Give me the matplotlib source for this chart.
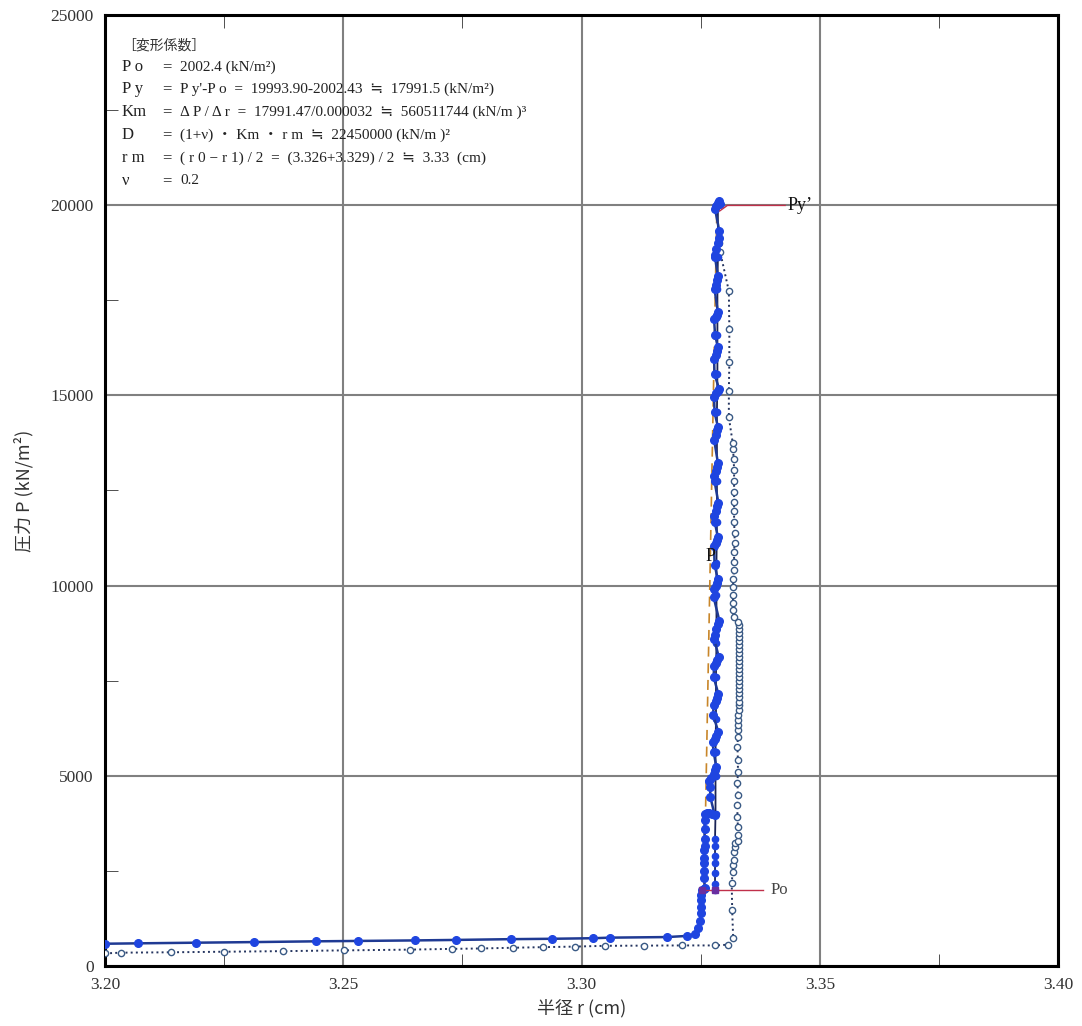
import matplotlib
matplotlib.use("Agg")
import matplotlib.pyplot as plt
from matplotlib.ticker import MultipleLocator

# ---- data ----
# filled series (main loading curve, r0)
load_r = [3.2000, 3.2069, 3.2190, 3.2312, 3.2442, 3.2530, 3.2651, 3.2737, 3.2851, 3.2937,
          3.3025, 3.3060, 3.3179, 3.3221, 3.3238, 3.3245, 3.3249, 3.3250, 3.3250, 3.3250,
          3.3251, 3.3252, 3.3256, 3.3259,
          3.3257, 3.3257, 3.3256, 3.3257, 3.3257, 3.3258, 3.3258, 3.3258, 3.3258, 3.3258,
          3.3263, 3.3268, 3.3274, 3.3279,
          3.3270, 3.3270, 3.3268, 3.3272, 3.3277, 3.3280, 3.3283,
          3.3277, 3.3275, 3.3279, 3.3283, 3.3287,
          3.3276, 3.3277, 3.3281, 3.3284, 3.3287,
          3.3277, 3.3278, 3.3282, 3.3285, 3.3288,
          3.3278, 3.3279, 3.3282, 3.3286, 3.3289,
          3.3277, 3.3277, 3.3281, 3.3284, 3.3286,
          3.3279, 3.3278, 3.3281, 3.3284, 3.3286,
          3.3279, 3.3278, 3.3282, 3.3285, 3.3287,
          3.3279, 3.3278, 3.3281, 3.3284, 3.3286,
          3.3278, 3.3281, 3.3284, 3.3286,
          3.3279, 3.3278, 3.3282, 3.3286, 3.3289,
          3.3279, 3.3278, 3.3281, 3.3284, 3.3286,
          3.3280, 3.3278, 3.3281, 3.3284, 3.3286,
          3.3279, 3.3281, 3.3284, 3.3286,
          3.3280, 3.3280, 3.3283, 3.3286, 3.3288, 3.3289,
          3.3280, 3.3283, 3.3286, 3.3289, 3.3291]
load_p = [585, 595, 612, 628, 648, 658, 672, 685, 705, 715,
          730, 745, 760, 790, 840, 1000, 1170, 1390, 1560, 1740,
          1870, 2000, 2020, 2040,
          2300, 2500, 2700, 2850, 3050, 3150, 3350, 3600, 3850, 4000,
          4030, 4010, 4000, 3980,
          4450, 4700, 4850, 4950, 5050, 5150, 5220,
          5630, 5880, 5960, 6050, 6150,
          6600, 6850, 6960, 7050, 7150,
          7600, 7880, 7960, 8050, 8120,
          8600, 8700, 8850, 8980, 9080,
          9700, 9900, 9990, 10080, 10160,
          10550, 11030, 11120, 11200, 11290,
          11680, 11830, 11950, 12080, 12180,
          12740, 12880, 13000, 13120, 13230,
          13840, 13960, 14080, 14180,
          14550, 14970, 15050, 15120, 15160,
          15550, 15950, 16050, 16160, 16260,
          16600, 17000, 17060, 17120, 17180,
          17790, 17900, 18020, 18130,
          18630, 18700, 18850, 19000, 19150, 19320,
          19900, 19980, 20050, 20100, 20020]

# second filled series (thin line)
load2_r = [3.3280, 3.3280, 3.3280, 3.3280, 3.3280, 3.3280, 3.3280, 3.3281, 3.3281, 3.3281,
           3.3282, 3.3282, 3.3283, 3.3283, 3.3283, 3.3284, 3.3284, 3.3284, 3.3285, 3.3285,
           3.3285, 3.3286, 3.3286]
load2_p = [2000, 2150, 2450, 2700, 2900, 3150, 3350, 4000, 5000, 5630,
           6500, 7600, 8500, 9760, 10600, 11680, 12740, 14550, 15550, 16600,
           17790, 18630, 20000]

# open-circle series (r1)
open_r = [3.2000, 3.2033, 3.2139, 3.2250, 3.2373, 3.2502, 3.2640, 3.2728, 3.2789, 3.2857,
          3.2919, 3.2987, 3.3049, 3.3130, 3.3210, 3.3280, 3.3308, 3.3318, 3.3316, 3.3315,
          3.3317, 3.3318, 3.3319, 3.3320, 3.3321, 3.3322, 3.3328,
          3.3328, 3.3328, 3.3327, 3.3327, 3.3328, 3.3327, 3.3328, 3.3328, 3.3327, 3.3328,
          3.3328, 3.3329, 3.3329, 3.3329, 3.3330,
          3.3330, 3.3330, 3.3330, 3.3331, 3.3330, 3.3331, 3.3330, 3.3331, 3.3330, 3.3331,
          3.3330, 3.3331, 3.3330, 3.3331, 3.3330, 3.3331, 3.3330, 3.3331, 3.3330, 3.3330,
          3.3330, 3.3329,
          3.3319, 3.3318, 3.3318, 3.3317, 3.3318, 3.3318, 3.3320, 3.3320, 3.3320, 3.3321,
          3.3321, 3.3320, 3.3320, 3.3320, 3.3320, 3.3320, 3.3320, 3.3319, 3.3318, 3.3317,
          3.3309, 3.3309, 3.3310, 3.3310, 3.3309, 3.3291, 3.3288]
open_p = [330, 350, 360, 375, 390, 410, 430, 450, 460, 480,
          495, 510, 530, 535, 540, 540, 560, 740, 1470, 2180,
          2470, 2660, 2790, 3000, 3140, 3240, 3280,
          3450, 3660, 3920, 4240, 4500, 4820, 5100, 5420, 5760, 6030,
          6210, 6340, 6470, 6600, 6740,
          6850, 6950, 7060, 7170, 7270, 7380, 7480, 7590, 7700, 7800,
          7910, 8010, 8120, 8230, 8330, 8440, 8540, 8650, 8760, 8860,
          8960, 9030,
          9180, 9370, 9550, 9760, 9970, 10160, 10420, 10630, 10890, 11130,
          11390, 11680, 11950, 12210, 12470, 12740, 13050, 13320, 13580, 13760,
          14420, 15110, 15870, 16740, 17740, 18760, 19000]

# dashed fit line
fit_r = [3.3257, 3.3269, 3.3284]
fit_p = [2000, 10000, 20000]

po_val = 2002.4
py_val = 19993.9

x_ticks = [3.20, 3.25, 3.30, 3.35, 3.40]
x_labels = ["3.20", "3.25", "3.30", "3.35", "3.40"]
y_ticks = [0, 5000, 10000, 15000, 20000, 25000]
y_labels = ["0", "5000", "10000", "15000", "20000", "25000"]

info_keys = ["P o", "P y", "Km", "D", "r m", "ν"]
info_vals = ["2002.4 (kN/m²)",
             "P y'-P o  =  19993.90-2002.43  ≒  17991.5 (kN/m²)",
             "Δ P / Δ r  =  17991.47/0.000032  ≒  560511744 (kN/m )³",
             "(1+ν) ・ Km ・ r m  ≒  22450000 (kN/m )²",
             "( r 0 − r 1) / 2  =  (3.326+3.329) / 2  ≒  3.33  (cm)",
             "0.2"]

serif = ["Liberation Serif", "Noto Sans CJK JP", "DejaVu Sans"]
jp = ["Noto Sans CJK JP", "Liberation Serif", "DejaVu Sans"]

fig = plt.figure(figsize=(10.82, 10.26), dpi=100)
ax = fig.add_axes([0.097, 0.0585, 0.881, 0.9269])

ax.plot(open_r, open_p, linestyle=":", color="#24345f", lw=1.4, marker="o", ms=4.5,
        mfc="white", mec="#3a5a85", mew=1.0, zorder=3)
ax.plot(fit_r, fit_p, linestyle=(0, (6, 4)), color="#c8862a", lw=1.2, zorder=2)
ax.plot(load2_r, load2_p, color="#1a2456", lw=1.3, marker="o", ms=4.5,
        mfc="#1f45e0", mec="#1f45e0", zorder=4)
ax.plot(load_r, load_p, color="#1f3a93", lw=1.8, marker="o", ms=5.5,
        mfc="#1f45e0", mec="#1f45e0", zorder=5)

# Po / Py' markers and labels
ax.plot([3.3257, 3.3381], [po_val, po_val], color="#c0304a", lw=1.0, zorder=6)
ax.plot([3.3252, 3.3280], [po_val, po_val], ls="none", marker="s", ms=5,
        color="#6a2ea0", zorder=7)
ax.text(3.3396, po_val, "Po", fontsize=12, family=serif, color="#444444",
        ha="left", va="center")
ax.plot([3.3290, 3.3306, 3.3427], [19850, py_val, py_val], color="#c0304a", lw=1.0, zorder=6)
ax.text(3.3433, py_val, "Py’", fontsize=13, family=serif, color="#111111",
        ha="left", va="center")
ax.text(3.3259, 10760, "P", fontsize=13, family=serif, color="#111111",
        ha="left", va="center", zorder=8)

ax.set_xlim(3.20, 3.40)
ax.set_ylim(0, 25000)
ax.set_xticks(x_ticks)
ax.set_xticklabels(x_labels, family=serif, fontsize=12.5, color="#333333")
ax.set_yticks(y_ticks)
ax.set_yticklabels(y_labels, family=serif, fontsize=12.5, color="#333333")
ax.xaxis.set_minor_locator(MultipleLocator(0.025))
ax.yaxis.set_minor_locator(MultipleLocator(2500))
ax.tick_params(which="major", length=0, pad=8)
ax.tick_params(which="minor", direction="in", length=9, top=True, right=False, color="#333333")
ax.grid(True, which="major", color="#808080", lw=1.5)
ax.set_axisbelow(True)
for s in ax.spines.values():
    s.set_linewidth(2.2)
    s.set_color("black")

ax.set_xlabel("半径 r (cm)", family=jp, fontsize=13, color="#333333", labelpad=4)
ax.set_ylabel("圧力 P (kN/m²)", family=jp, fontsize=13, color="#333333", labelpad=12)

# parameter block
W, H = 1082.0, 1026.0
fig.text(122 / W, 1 - 46 / H, "［変形係数］", family=jp, fontsize=10, color="#333333",
         va="center", ha="left")
rows_y = [67, 89, 112, 135, 158, 181]
for key, val, yy in zip(info_keys, info_vals, rows_y):
    fig.text(122 / W, 1 - yy / H, key, family=serif, fontsize=12, color="#222222",
             va="center", ha="left")
    fig.text(162 / W, 1 - yy / H, "=", family=serif, fontsize=12, color="#222222",
             va="center", ha="left")
    fig.text(180 / W, 1 - yy / H, val, family=serif, fontsize=11, color="#222222",
             va="center", ha="left")

fig.savefig("out.png", dpi=100)
